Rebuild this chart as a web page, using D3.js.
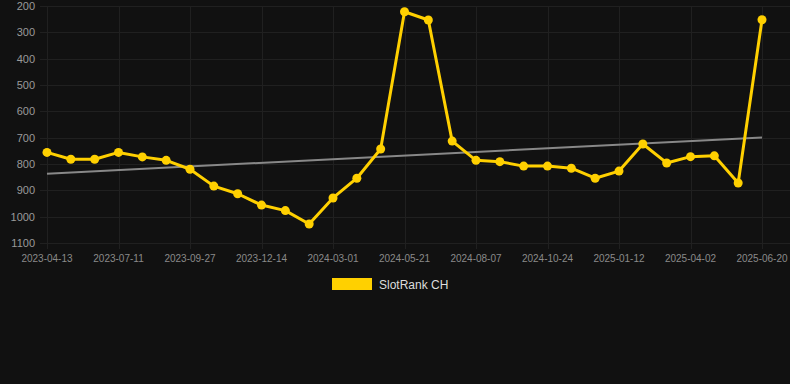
<!DOCTYPE html>
<html>
<head>
<meta charset="utf-8">
<script src="https://cdn.jsdelivr.net/npm/d3@7"></script>
<style>
  html, body { margin: 0; padding: 0; background: #111111; }
  #chart { width: 790px; height: 384px; }
  text { font-family: "Liberation Sans", Arial, sans-serif; }
</style>
</head>
<body>
<div id="chart"></div>
<script>
// category dates (labels shown every 3rd point)
var dates = [
  "2023-04-13", "2023-05-13", "2023-06-11", "2023-07-11", "2023-08-06", "2023-09-01",
  "2023-09-27", "2023-10-23", "2023-11-18", "2023-12-14", "2024-01-09", "2024-02-04",
  "2024-03-01", "2024-03-28", "2024-04-24", "2024-05-21", "2024-06-16", "2024-07-12",
  "2024-08-07", "2024-09-02", "2024-09-28", "2024-10-24", "2024-11-20", "2024-12-17",
  "2025-01-12", "2025-02-08", "2025-03-07", "2025-04-02", "2025-04-28", "2025-05-24",
  "2025-06-20"
];
var rank = [
  756, 782, 782, 756, 773, 786, 820, 884, 913, 956,
  977, 1028, 929, 854, 743, 222, 253, 713, 786, 791,
  808, 808, 816, 854, 827, 724, 796, 772, 769, 872,
  252
];
var yTicks = [200, 300, 400, 500, 600, 700, 800, 900, 1000, 1100];
var seriesName = "SlotRank CH";

(function() {
  var w = 790, h = 384;
  var svg = d3.select("#chart")
    .append("svg")
    .attr("width", w)
    .attr("height", h)
    .attr("xmlns", "http://www.w3.org/2000/svg");

  var pLeft = 40, pRight = 790, pTop = 6, pBottom = 243;
  var gridColor = "#202020";

  var x = d3.scalePoint().domain(d3.range(dates.length)).range([47, 762]);
  var y = d3.scaleLinear().domain([200, 1100]).range([pTop, pBottom]);

  // horizontal grid + y labels
  svg.append("g").selectAll("line")
    .data(yTicks).enter().append("line")
    .attr("x1", pLeft).attr("x2", pRight)
    .attr("y1", function(d) { return Math.round(y(d)) + 0.5; })
    .attr("y2", function(d) { return Math.round(y(d)) + 0.5; })
    .attr("stroke", gridColor).attr("stroke-width", 1);

  svg.append("g").selectAll("text")
    .data(yTicks).enter().append("text")
    .attr("x", 35)
    .attr("y", function(d) { return y(d) + 4; })
    .attr("text-anchor", "end")
    .attr("font-size", "11px")
    .attr("fill", "#9a9a9a")
    .text(function(d) { return d; });

  // vertical grid + x labels every 3rd category
  var labelIdx = d3.range(0, dates.length, 3);
  svg.append("g").selectAll("line")
    .data(labelIdx).enter().append("line")
    .attr("x1", function(i) { return Math.round(x(i)) + 0.5; })
    .attr("x2", function(i) { return Math.round(x(i)) + 0.5; })
    .attr("y1", pTop).attr("y2", pBottom + 6)
    .attr("stroke", gridColor).attr("stroke-width", 1);

  svg.append("g").selectAll("text")
    .data(labelIdx).enter().append("text")
    .attr("x", function(i) { return x(i); })
    .attr("y", 262)
    .attr("text-anchor", "middle")
    .attr("font-size", "10px")
    .attr("fill", "#8a8a8a")
    .text(function(i) { return dates[i]; });

  // linear trend from the data
  var n = rank.length;
  var mx = d3.mean(d3.range(n)), my = d3.mean(rank);
  var sxy = d3.sum(rank, function(v, i) { return (i - mx) * (v - my); });
  var sxx = d3.sum(d3.range(n), function(i) { return (i - mx) * (i - mx); });
  var slope = sxy / sxx, icpt = my - slope * mx;

  svg.append("line")
    .attr("x1", x(0)).attr("x2", x(n - 1))
    .attr("y1", y(icpt)).attr("y2", y(icpt + slope * (n - 1)))
    .attr("stroke", "#888888").attr("stroke-width", 2);

  // series line
  var line = d3.line()
    .x(function(d, i) { return x(i); })
    .y(function(d) { return y(d); });

  svg.append("path")
    .attr("d", line(rank))
    .attr("fill", "none")
    .attr("stroke", "#FFD000")
    .attr("stroke-width", 3)
    .attr("stroke-linejoin", "round");

  svg.append("g").selectAll("circle")
    .data(rank).enter().append("circle")
    .attr("cx", function(d, i) { return x(i); })
    .attr("cy", function(d) { return y(d); })
    .attr("r", 4.5)
    .attr("fill", "#FFD000");

  // legend
  svg.append("rect")
    .attr("x", 332).attr("y", 278)
    .attr("width", 40).attr("height", 12)
    .attr("fill", "#FFD000");
  svg.append("text")
    .attr("x", 379).attr("y", 288.5)
    .attr("font-size", "12px")
    .attr("fill", "#dddddd")
    .text(seriesName);
})();
</script>
</body>
</html>
